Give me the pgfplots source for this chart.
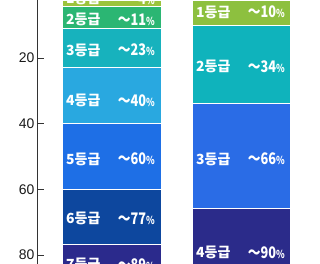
\documentclass[border=0pt]{standalone}
\usepackage{pgfplots}
\pgfplotsset{compat=1.18}
\usepackage{fontspec}
\setmainfont{Liberation Sans}
\newfontfamily\kr{Noto Sans CJK KR}
\definecolor{La}{HTML}{9CC43C}
\definecolor{Lb}{HTML}{2BB673}
\definecolor{Lc}{HTML}{17B2BD}
\definecolor{Ld}{HTML}{29A8E0}
\definecolor{Le}{HTML}{1E6FE6}
\definecolor{Lf}{HTML}{0D479E}
\definecolor{Lg}{HTML}{2B2A8C}
\definecolor{Ra}{HTML}{8DC03F}
\definecolor{Rb}{HTML}{0FB3BC}
\definecolor{Rc}{HTML}{2A6CE6}
\definecolor{Rd}{HTML}{2B2B8A}
\newcommand{\lab}{\kr\bfseries\fontsize{14}{14}\selectfont}
\newcommand{\pct}[1]{\scalebox{0.8}[1]{{\fontsize{16}{16}\selectfont ～#1}{\fontsize{11}{11}\selectfont\%}}}
\begin{document}
\begin{tikzpicture}
\path[use as bounding box] (0,0) rectangle (320bp,264bp);
\begin{axis}[
  at={(37bp,0bp)}, anchor=south west,
  scale only axis, width=283bp, height=264bp,
  xmin=37, xmax=320,
  ymin=2.3, ymax=82.8, y dir=reverse,
  axis x line=none, axis y line=left,
  axis line style={-, black!80, line width=0.6pt},
  ytick={20,40,60,80},
  tick align=inside, major tick length=7bp,
  tick style={black!80, line width=0.6pt},
  /pgf/number format/assume math mode=true,
  yticklabel style={font=\fontsize{14}{14}\selectfont, text=black!90, xshift=1bp},
  clip=true,
]
% left bar (cumulative %, drawn largest first)
\addplot[ybar, bar width=99, bar shift=0pt, fill=Lg, draw=white, line width=1bp] coordinates {(111.5,89)};
\addplot[ybar, bar width=99, bar shift=0pt, fill=Lf, draw=white, line width=1bp] coordinates {(111.5,77)};
\addplot[ybar, bar width=99, bar shift=0pt, fill=Le, draw=white, line width=1bp] coordinates {(111.5,60)};
\addplot[ybar, bar width=99, bar shift=0pt, fill=Ld, draw=white, line width=1bp] coordinates {(111.5,40)};
\addplot[ybar, bar width=99, bar shift=0pt, fill=Lc, draw=white, line width=1bp] coordinates {(111.5,23)};
\addplot[ybar, bar width=99, bar shift=0pt, fill=Lb, draw=white, line width=1bp] coordinates {(111.5,11)};
\addplot[ybar, bar width=99, bar shift=0pt, fill=La, draw=white, line width=1bp] coordinates {(111.5,4.4)};
% right bar
\addplot[ybar, bar width=98, bar shift=0pt, fill=Rd, draw=white, line width=1bp] coordinates {(241,90)};
\addplot[ybar, bar width=98, bar shift=0pt, fill=Rc, draw=white, line width=1bp] coordinates {(241,66)};
\addplot[ybar, bar width=98, bar shift=0pt, fill=Rb, draw=white, line width=1bp] coordinates {(241,34)};
\addplot[ybar, bar width=98, bar shift=0pt, fill=Ra, draw=white, line width=1bp] coordinates {(241,10)};
% labels
\begin{scope}[every node/.style={text=white, font=\lab, inner sep=0pt}]
\node[anchor=west] at (axis cs:66,1.9) {1등급};   \node[anchor=east] at (axis cs:155,1.9) {\pct{4}};
\node[anchor=west] at (axis cs:66,8.3) {2등급};   \node[anchor=east] at (axis cs:155,8.3) {\pct{11}};
\node[anchor=west] at (axis cs:66,17.6) {3등급};  \node[anchor=east] at (axis cs:155,17.6) {\pct{23}};
\node[anchor=west] at (axis cs:66,33) {4등급};    \node[anchor=east] at (axis cs:155,33) {\pct{40}};
\node[anchor=west] at (axis cs:66,50.8) {5등급};  \node[anchor=east] at (axis cs:155,50.8) {\pct{60}};
\node[anchor=west] at (axis cs:66,68.9) {6등급};  \node[anchor=east] at (axis cs:155,68.9) {\pct{77}};
\node[anchor=west] at (axis cs:66,83) {7등급};    \node[anchor=east] at (axis cs:155,83) {\pct{89}};
\node[anchor=west] at (axis cs:196,6) {1등급};    \node[anchor=east] at (axis cs:285,6) {\pct{10}};
\node[anchor=west] at (axis cs:196,22.6) {2등급}; \node[anchor=east] at (axis cs:285,22.6) {\pct{34}};
\node[anchor=west] at (axis cs:196,50.8) {3등급}; \node[anchor=east] at (axis cs:285,50.8) {\pct{66}};
\node[anchor=west] at (axis cs:196,79.3) {4등급}; \node[anchor=east] at (axis cs:285,79.3) {\pct{90}};
\end{scope}
\end{axis}
\end{tikzpicture}
\end{document}
